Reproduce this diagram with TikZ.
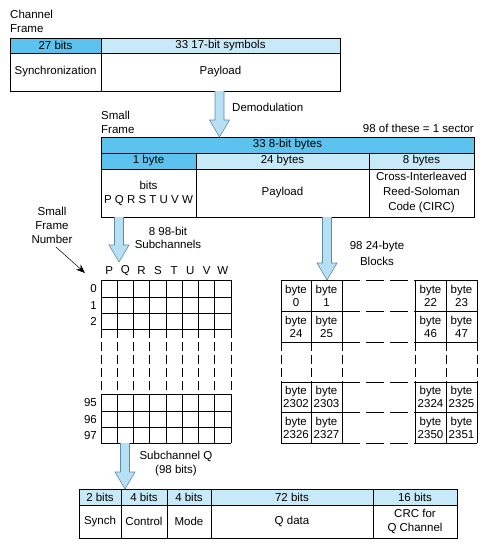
\documentclass[tikz,border=0pt]{standalone}
\usepackage{fontspec}
\setmainfont{Liberation Sans}
\usetikzlibrary{calc,arrows.meta}
\definecolor{hdark}{HTML}{5BC3EE}
\definecolor{hlight}{HTML}{C8EAF8}
\definecolor{arrfill}{HTML}{B8E0F5}
\definecolor{arrline}{HTML}{5E8AA6}
\begin{document}
\begin{tikzpicture}[x=1pt,y=-1pt,
  font=\fontsize{11.5}{14}\selectfont,
  cell/.style={draw, line width=0.8pt, inner sep=0pt, align=center},
  span/.style n args={4}{minimum width={#3-#1}, minimum height={#4-#2},
     at={({(#1+#3)/2},{(#2+#4)/2})}},
  lbl/.style={inner sep=0pt, align=center},
  gline/.style={line width=0.8pt},
  gdash/.style={line width=0.8pt, dash pattern=on 9pt off 4pt},
  bdash/.style={line width=0.8pt, dash pattern=on 18pt off 6pt},
  barrow/.style={fill=arrfill, draw=arrline, line width=0.6pt, line join=miter},
  ptr/.style={line width=0.5pt, -{Stealth[length=9pt,width=7pt]}}]
\useasboundingbox (0,0) rectangle (495,551);

% ---------- Channel frame ----------
\node[lbl, anchor=west, align=left] (cftitle) at (10,21.5) {Channel\\Frame};
\node[cell, fill=hdark, span={10}{38}{101}{53}] (cfh1) {27 bits};
\node[cell, fill=hlight, span={101}{38}{340}{53}] (cfh2) {33 17-bit symbols};
\node[cell, span={10}{53}{101}{91}] (cfb1) {Synchronization};
\node[cell, span={101}{53}{340}{91}] (cfb2) {Payload};

% ---------- Small frame ----------
\node[lbl, anchor=west, align=left] (sftitle) at (101,122) {Small\\Frame};
\node[lbl, anchor=east] (sector) at (474,128) {98 of these = 1 sector};
\node[cell, fill=hdark, span={101}{137}{474}{153}] (sfh) {33 8-bit bytes};
\node[cell, fill=hdark, span={101}{153}{196}{169}] (sfa) {1 byte};
\node[cell, fill=hlight, span={196}{153}{369}{169}] (sfb) {24 bytes};
\node[cell, fill=hlight, span={369}{153}{474}{169}] (sfc) {8 bytes};
\node[cell, span={101}{169}{196}{217}] (sfd) {bits\\P Q R S T U V W};
\node[cell, span={196}{169}{369}{217}] (sfe) {Payload};
\node[cell, span={369}{169}{474}{217}, font=\fontsize{11.5}{15}\selectfont] (sff) {Cross-Interleaved\\Reed-Soloman\\Code (CIRC)};

% demodulation arrow
\coordinate (dmS) at (219.5,91);
\coordinate (dmE) at (219.5,137);
\draw[barrow] ($(dmS)+(-4.5,0)$) -- ($(dmE)+(-4.5,-17)$) -- ($(dmE)+(-10,-17)$) -- (dmE)
  -- ($(dmE)+(10,-17)$) -- ($(dmE)+(4.5,-17)$) -- ($(dmS)+(4.5,0)$);
\node[lbl, anchor=west] (demod) at (232,107) {Demodulation};

% ---------- Subchannel grid ----------
\node[lbl] (sfn) at (52,225) {Small\\Frame\\Number};
\coordinate (sfnA) at (56,247);
\coordinate (sfnB) at (85,273);
\draw[ptr] (sfnA) -- (sfnB);

\coordinate (scS) at (119,217);
\coordinate (scE) at (119,262);
\draw[barrow] ($(scS)+(-4.5,0)$) -- ($(scE)+(-4.5,-17)$) -- ($(scE)+(-10,-17)$) -- (scE)
  -- ($(scE)+(10,-17)$) -- ($(scE)+(4.5,-17)$) -- ($(scS)+(4.5,0)$);
\node[lbl, font=\fontsize{11.5}{13.5}\selectfont] (subch) at (168,238) {8 98-bit\\Subchannels};

\foreach \l [count=\i from 0] in {P,Q,R,S,T,U,V,W}
  \node[lbl] (col\l) at ({101+(\i+0.5)*16.25},271) {\l};
\foreach \i in {0,...,8} {
  \draw[gline] ({101+\i*16.25},280) -- ({101+\i*16.25},329);
  \draw[gdash] ({101+\i*16.25},329) -- ({101+\i*16.25},394);
  \draw[gline] ({101+\i*16.25},394) -- ({101+\i*16.25},443);
}
\foreach \y in {280,297,313,329,394,411,427,443}
  \draw[gline] (101,\y) -- (231,\y);
\node[lbl, anchor=east] (r0) at (97,289) {0};
\node[lbl, anchor=east] (r1) at (97,305.5) {1};
\node[lbl, anchor=east] (r2) at (97,321.5) {2};
\node[lbl, anchor=east] (r95) at (97,403) {95};
\node[lbl, anchor=east] (r96) at (97,419.5) {96};
\node[lbl, anchor=east] (r97) at (97,435.5) {97};

% ---------- Byte blocks ----------
\coordinate (blS) at (327,217);
\coordinate (blE) at (327,280);
\draw[barrow] ($(blS)+(-4.5,0)$) -- ($(blE)+(-4.5,-17)$) -- ($(blE)+(-10,-17)$) -- (blE)
  -- ($(blE)+(10,-17)$) -- ($(blE)+(4.5,-17)$) -- ($(blS)+(4.5,0)$);
\node[lbl, font=\fontsize{11.5}{16}\selectfont] (blk) at (377,253) {98 24-byte\\Blocks};

\foreach \x in {281,311,342,415,446,477} {
  \draw[gline] (\x,280) -- (\x,342);
  \draw[gdash] (\x,342) -- (\x,382);
  \draw[gline] (\x,382) -- (\x,443);
}
\foreach \y in {280,311,342,382,412,443} {
  \draw[gline] (281,\y) -- (342,\y);
  \draw[bdash] (342,\y) -- (415,\y);
  \draw[gline] (415,\y) -- (477,\y);
}
\begin{scope}[every node/.style={lbl, font=\fontsize{11.5}{13}\selectfont}]
\node (b0) at (296,295.5) {byte\\0};
\node (b1) at (326.5,295.5) {byte\\1};
\node (b22) at (430.5,295.5) {byte\\22};
\node (b23) at (461.5,295.5) {byte\\23};
\node (b24) at (296,326.5) {byte\\24};
\node (b25) at (326.5,326.5) {byte\\25};
\node (b46) at (430.5,326.5) {byte\\46};
\node (b47) at (461.5,326.5) {byte\\47};
\node (b2302) at (296,397) {byte\\2302};
\node (b2303) at (326.5,397) {byte\\2303};
\node (b2324) at (430.5,397) {byte\\2324};
\node (b2325) at (461.5,397) {byte\\2325};
\node (b2326) at (296,427.5) {byte\\2326};
\node (b2327) at (326.5,427.5) {byte\\2327};
\node (b2350) at (430.5,427.5) {byte\\2350};
\node (b2351) at (461.5,427.5) {byte\\2351};
\end{scope}

% ---------- Subchannel Q ----------
\coordinate (qS) at (125,443);
\coordinate (qE) at (125,489);
\draw[barrow] ($(qS)+(-4.5,0)$) -- ($(qE)+(-4.5,-17)$) -- ($(qE)+(-10,-17)$) -- (qE)
  -- ($(qE)+(10,-17)$) -- ($(qE)+(4.5,-17)$) -- ($(qS)+(4.5,0)$);
\node[lbl] (subq) at (176,464) {Subchannel Q\\(98 bits)};

\node[cell, fill=hlight, span={79}{489}{121}{505}] (qh1) {2 bits};
\node[cell, fill=hlight, span={121}{489}{167}{505}] (qh2) {4 bits};
\node[cell, fill=hlight, span={167}{489}{211}{505}] (qh3) {4 bits};
\node[cell, fill=hlight, span={211}{489}{373}{505}] (qh4) {72 bits};
\node[cell, fill=hlight, span={373}{489}{457}{505}] (qh5) {16 bits};
\node[cell, span={79}{505}{121}{538}] (qb1) {Synch};
\node[cell, span={121}{505}{167}{538}] (qb2) {Control};
\node[cell, span={167}{505}{211}{538}] (qb3) {Mode};
\node[cell, span={211}{505}{373}{538}] (qb4) {Q data};
\node[cell, span={373}{505}{457}{538}] (qb5) {CRC for\\Q Channel};
\end{tikzpicture}
\end{document}
